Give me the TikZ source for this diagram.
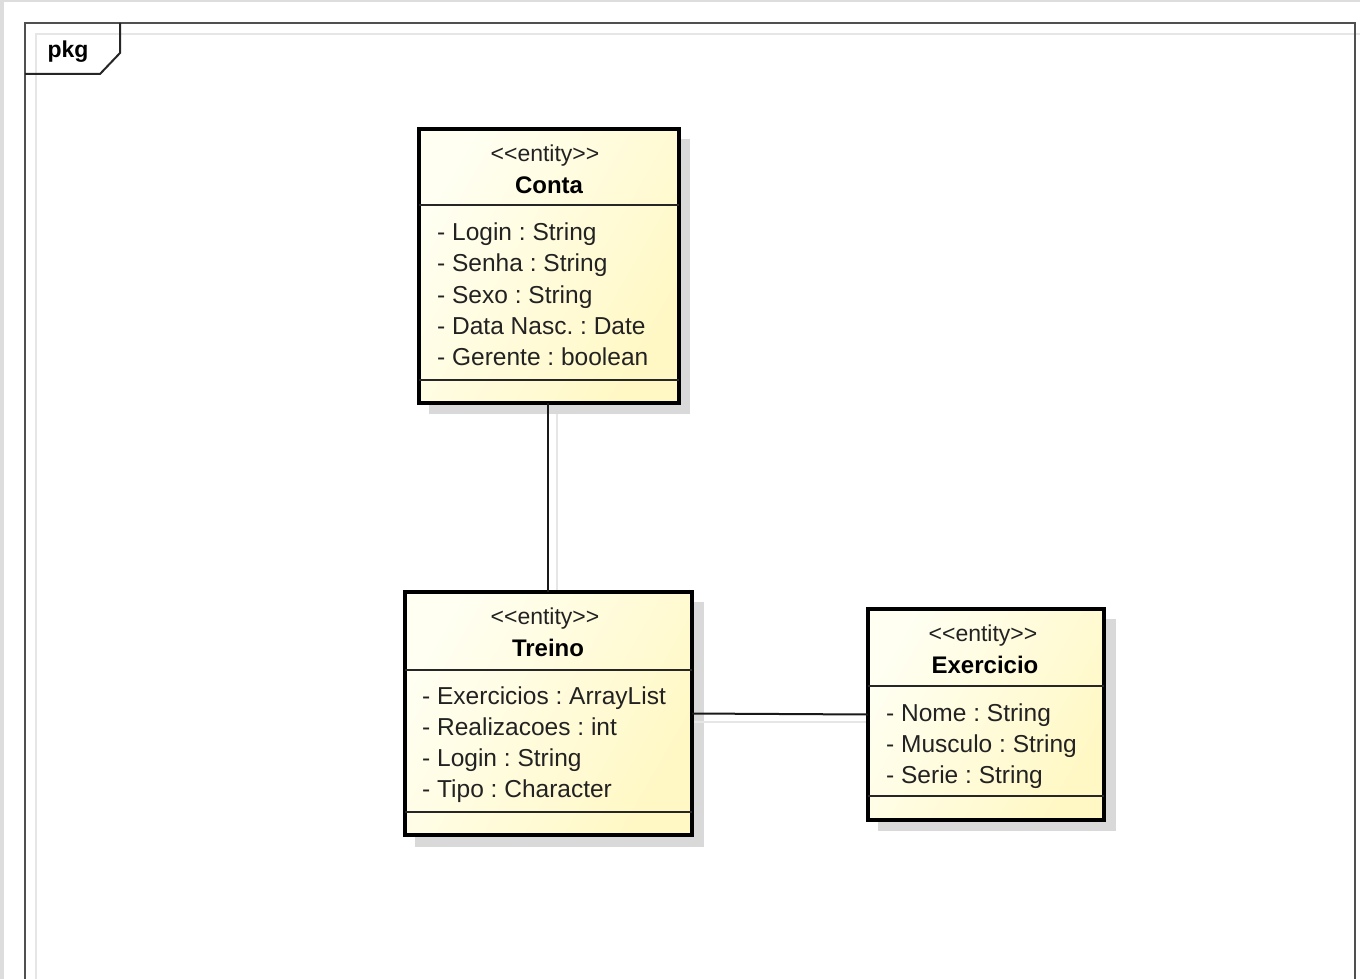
\documentclass[tikz,border=0pt]{standalone}
\usepackage{fontspec}
\setmainfont{Liberation Sans}
\frenchspacing
\definecolor{framegray}{HTML}{505050}
\definecolor{lightline}{HTML}{E6E6E6}
\definecolor{stripgray}{HTML}{DDDDDD}
\definecolor{shadowgray}{HTML}{D9D9D9}
\definecolor{fillA}{HTML}{FFFFF2}
\definecolor{fillB}{HTML}{FFF8C4}
\definecolor{txt}{HTML}{222222}
\newcommand{\stereotxt}{{<}{<}entity{>}{>}}
\tikzset{
  classbox/.style={rectangle, draw=black, line width=4pt, inner sep=0pt, outer sep=0pt,
    anchor=north west, left color=fillA, right color=fillB, shading angle=60},
  divline/.style={draw=black!85, line width=1.5pt},
  stereo/.style={font=\fontsize{23}{23}\selectfont, text=txt, inner sep=0pt, anchor=mid},
  cname/.style={font=\fontsize{24}{24}\selectfont\bfseries, text=black, inner sep=0pt, anchor=mid},
  attr/.style={font=\fontsize{24.5}{24.5}\selectfont, text=txt, inner sep=0pt, anchor=mid west},
  assoc/.style={draw=black!90, line width=2pt},
  assocshadow/.style={draw=lightline, line width=2pt},
  frameline/.style={draw=framegray, line width=2.5pt},
  tabline/.style={draw=black!85, line width=2pt},
}
\begin{document}
\begin{tikzpicture}[x=1pt,y=-1pt]
\useasboundingbox (0,0) rectangle (1360,979);
% outer gray strips
\fill[stripgray] (0,0) rectangle (4,979);
\fill[stripgray] (0,0) rectangle (1360,2.5);
% inner light lines
\draw[lightline, line width=2pt] (36,979) -- (36,34) -- (1360,34);
% frame
\draw[frameline] (25,979) -- (25,23) -- (1355,23) -- (1355,979);
% tab
\draw[tabline] (25,74) -- (100,74) -- (120,53) -- (120,23);
\node[font=\fontsize{23}{23}\selectfont\bfseries, inner sep=0pt, anchor=mid] (pkg) at (68,55) {pkg};

% shadows
\fill[shadowgray] (429,139) rectangle (690,414);
\fill[shadowgray] (415,602) rectangle (704,847);
\fill[shadowgray] (878,619) rectangle (1116,831);

% connector shadows
\coordinate (csA) at (557,414);
\coordinate (csB) at (557,600);
\coordinate (csC) at (693,722);
\coordinate (csD) at (880,722);
\draw[assocshadow] (csA) -- (csB);
\draw[assocshadow] (csC) -- (csD);

% Conta
\node[classbox, minimum width=260pt, minimum height=274pt] (conta) at (419,129) {};
\draw[divline] (conta.west |- 0,205) -- (conta.east |- 0,205);
\draw[divline] (conta.west |- 0,380) -- (conta.east |- 0,380);
\node[stereo] (contaS) at (545,159) {\stereotxt};
\node[cname] (contaN) at (549,191) {Conta};
\node[attr] (contaA1) at (437,238) {- Login : String};
\node[attr] (contaA2) at (437,269) {- Senha : String};
\node[attr] (contaA3) at (437,301) {- Sexo : String};
\node[attr] (contaA4) at (437,332) {- Data Nasc. : Date};
\node[attr] (contaA5) at (437,363) {- Gerente : boolean};

% Treino
\node[classbox, minimum width=287pt, minimum height=243pt] (treino) at (405,592) {};
\draw[divline] (treino.west |- 0,670) -- (treino.east |- 0,670);
\draw[divline] (treino.west |- 0,812) -- (treino.east |- 0,812);
\node[stereo] (treinoS) at (545,622) {\stereotxt};
\node[cname] (treinoN) at (548,654) {Treino};
\node[attr] (treinoA1) at (422,702) {- Exercicios : ArrayList};
\node[attr] (treinoA2) at (422,733) {- Realizacoes : int};
\node[attr] (treinoA3) at (422,764) {- Login : String};
\node[attr] (treinoA4) at (422,795) {- Tipo : Character};

% Exercicio
\node[classbox, minimum width=236pt, minimum height=211pt] (exer) at (868,609) {};
\draw[divline] (exer.west |- 0,686) -- (exer.east |- 0,686);
\draw[divline] (exer.west |- 0,796) -- (exer.east |- 0,796);
\node[stereo] (exerS) at (983,639) {\stereotxt};
\node[cname] (exerN) at (985,671) {Exercicio};
\node[attr] (exerA1) at (886,719) {- Nome : String};
\node[attr] (exerA2) at (886,750) {- Musculo : String};
\node[attr] (exerA3) at (886,781) {- Serie : String};

% associations
\draw[assoc] (conta.south -| 548,0) -- (treino.north -| 548,0);
\draw[assoc] (treino.east) -- (exer.west);
\end{tikzpicture}
\end{document}
